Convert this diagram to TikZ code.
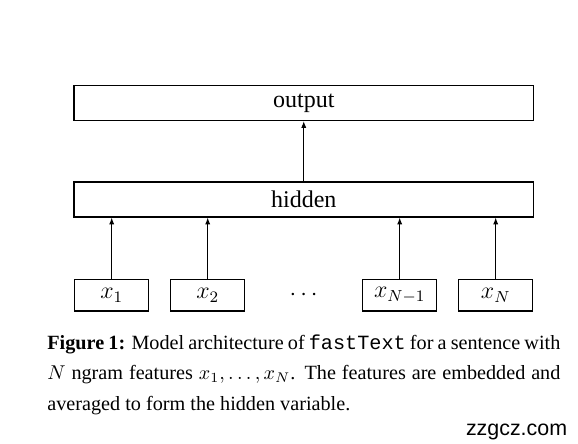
\documentclass[tikz,border=0pt]{standalone}
\usepackage{fontspec}
\setmainfont{Liberation Serif}
\setmonofont{Liberation Mono}
\setsansfont{Liberation Sans}
\usetikzlibrary{arrows.meta}

\begin{document}
\begin{tikzpicture}[x=0.5pt, y=-0.5pt,
  every node/.style={font=\fontsize{12}{14}\selectfont},
  layer/.style={draw, line width=0.6pt, minimum width=229.75pt, minimum height=17.5pt, inner sep=0pt},
  feat/.style={draw, line width=0.6pt, minimum width=37pt, minimum height=15.75pt, inner sep=0pt},
  up/.style={-{Latex[length=3.4pt,width=2.6pt]}, line width=0.5pt}]
  \useasboundingbox (0,0) rectangle (578,444);
  % Layers
  \node[layer] (output) at (303.75,103) {output};
  \node[layer] (hidden) at (303.75,199.5) {hidden};
  % Input features
  \node[feat] (x1) at (111.7,295.3) {$x_1$};
  \node[feat] (x2) at (207.7,295.3) {$x_2$};
  \node (dots) at (303.7,295.3) {$\cdots$};
  \node[feat] (xN1) at (399.7,295.3) {$x_{N-1}$};
  \node[feat] (xN) at (495.7,295.3) {$x_N$};
  % Arrows
  \draw[up] (hidden) -- (output);
  \foreach \n in {x1,x2,xN1,xN}
    \draw[up] (\n) -- (\n |- hidden.south);
  % Caption
  \node[anchor=north west, text width=256.5pt, align=justify, inner sep=0pt,
        font=\fontsize{10.1}{15.25}\selectfont] (caption) at (47,334)
    {\textbf{Figure 1:} Model architecture of \texttt{fastText} for a sentence with\linebreak
     $N$ ngram features $x_1,\ldots,x_N$. The features are embedded and\linebreak
     averaged to form the hidden variable.};
  \node[anchor=base east, inner sep=0pt, font=\sffamily\fontsize{10.7}{12}\selectfont] (mark) at (567.5,435) {zzgcz.com};
\end{tikzpicture}
\end{document}
